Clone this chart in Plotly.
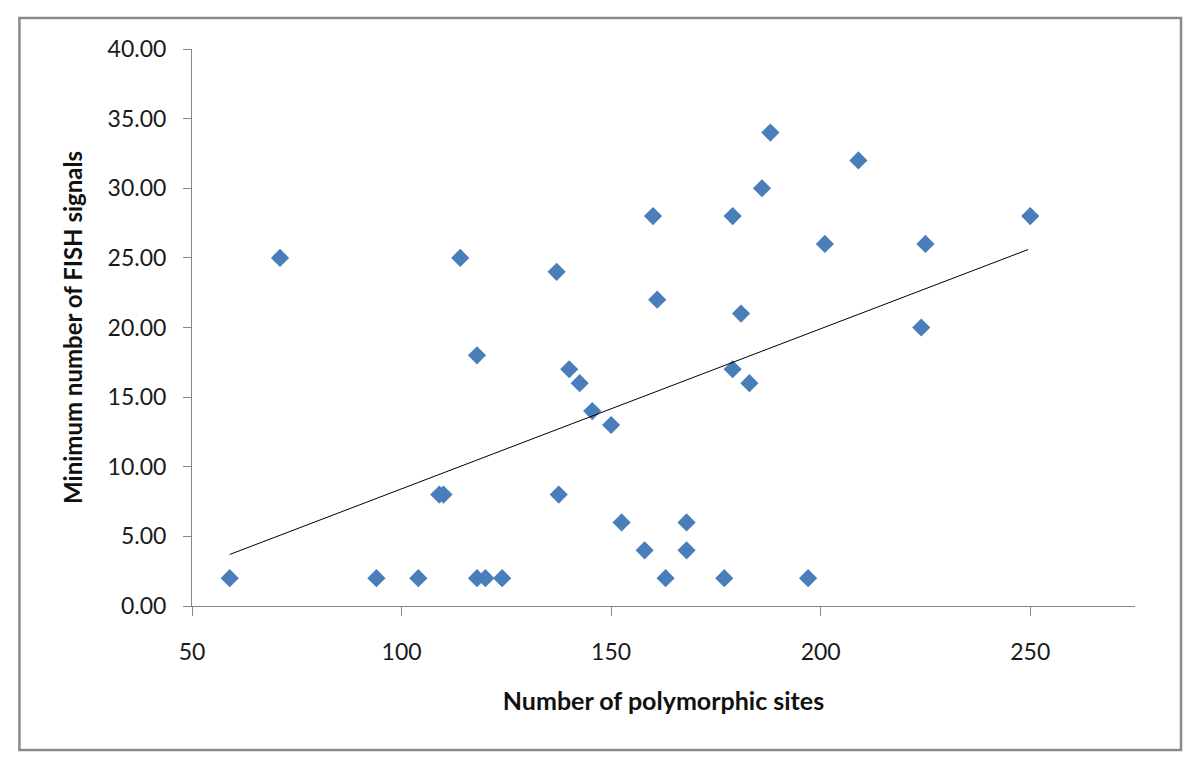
import plotly.graph_objects as go

# values
polymorphic_sites = [59, 71, 94, 104, 109, 110, 114, 118, 118, 120, 124, 137, 137.5,
                     140, 142.5, 145.5, 150, 152.5, 158, 160, 161, 163, 168, 168,
                     177, 179, 179, 181, 183, 186, 188, 197, 201, 209, 224, 225, 250]
fish_signals = [2, 25, 2, 2, 8, 8, 25, 18, 2, 2, 2, 24, 8,
                17, 16, 14, 13, 6, 4, 28, 22, 2, 6, 4,
                2, 28, 17, 21, 16, 30, 34, 2, 26, 32, 20, 26, 28]

# linear trendline end points as drawn in the reference
trend_x = [59, 249.5]
trend_y = [3.7, 25.6]

x_ticks = [50, 100, 150, 200, 250]
y_ticks = [0, 5, 10, 15, 20, 25, 30, 35, 40]

FONT = "Lato, 'Open Sans', sans-serif"
AXIS_GREY = "#868686"

fig = go.Figure()
fig.add_trace(go.Scatter(
    x=polymorphic_sites, y=fish_signals, mode="markers",
    marker=dict(symbol="diamond", size=14, color="#4A7EBB", line=dict(width=0)),
    showlegend=False, cliponaxis=False,
))
fig.add_trace(go.Scatter(
    x=trend_x, y=trend_y, mode="lines",
    line=dict(color="black", width=1), showlegend=False,
))

fig.update_xaxes(
    range=[50, 275], tickvals=x_ticks, ticktext=[str(v) for v in x_ticks],
    showgrid=False, zeroline=False, showline=True, linecolor=AXIS_GREY, linewidth=1,
    ticks="outside", ticklen=9, tickcolor=AXIS_GREY, ticklabelstandoff=16,
    tickfont=dict(family=FONT, size=23, color="#1a1a1a"),
    title=dict(text="<b>Number of polymorphic sites</b>", standoff=28,
               font=dict(family=FONT, size=25, color="#111")),
)
fig.update_yaxes(
    range=[0, 40], tickvals=y_ticks, ticktext=[f"{v:.2f}" for v in y_ticks],
    showgrid=False, zeroline=False, showline=True, linecolor=AXIS_GREY, linewidth=1,
    ticks="outside", ticklen=8, tickcolor=AXIS_GREY, ticklabelstandoff=12,
    tickfont=dict(family=FONT, size=23, color="#1a1a1a"),
    title=dict(text="<b>Minimum number of FISH signals</b>", standoff=18,
               font=dict(family=FONT, size=24, color="#111")),
)

# outer chart border
fig.add_shape(type="rect", xref="paper", yref="paper",
              x0=-0.183, x1=1.0488, y0=-0.2585, y1=1.0557,
              line=dict(color="#8a8a8a", width=2.5), layer="below")

# page body keeps its default 8px margin, so the figure is 8px smaller
fig.update_layout(
    width=1192, height=766,
    margin=dict(l=184, r=65, t=41, b=168),
    plot_bgcolor="white", paper_bgcolor="white",
    font=dict(family=FONT),
)

fig.write_html("out.html")
